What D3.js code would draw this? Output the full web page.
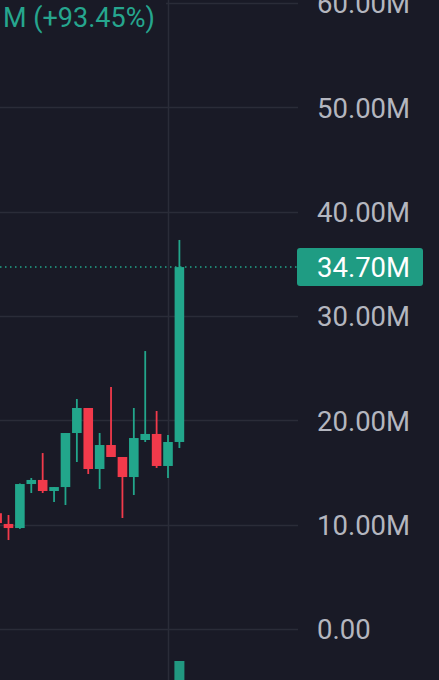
<!DOCTYPE html>
<html><head><meta charset="utf-8">
<script src="https://cdn.jsdelivr.net/npm/d3@7"></script>
<style>html,body{margin:0;padding:0;background:#191a26;overflow:hidden}</style>
</head><body>
<svg id="c" width="439" height="680"></svg>
<script>
const opens  = [11.1, 10.07, 9.68, 13.9, 14.29, 13.23, 13.61, 18.79, 21.19, 15.34, 17.64, 16.49, 14.57, 18.12, 18.70, 15.63, 17.93];
const highs  = [11.4, 10.93, 13.95, 14.48, 16.87, 13.61, 18.79, 22.05, 21.19, 18.79, 23.2, 16.49, 21.19, 26.65, 20.90, 18.60, 37.30];
const lows   = [9.9, 8.53, 9.6, 13.04, 13.04, 12.18, 11.89, 16.01, 14.86, 13.42, 16.49, 10.64, 12.85, 17.93, 15.44, 14.48, 17.35];
const closes = [10.16, 9.68, 13.9, 14.29, 13.23, 13.61, 18.79, 21.19, 15.34, 17.64, 16.49, 14.57, 18.31, 18.70, 15.63, 17.93, 34.70];
const volumes = [2, 2.5, 3, 1.5, 2, 1.2, 3.5, 3, 3.2, 2.4, 2.8, 2.6, 3, 3.5, 2.2, 2.5, 60];
const yTicks = [0, 10, 20, 30, 40, 50, 60];
const tickLabels = ["0.00", "10.00M", "20.00M", "30.00M", "40.00M", "50.00M", "60.00M"];
const lastPrice = 34.70;
const lastLabel = "34.70M";
const legendText = "M (+93.45%)";

const W = 439, H = 680;
const bg = "#191a26", grid = "#2a2c38", up = "#22a68b", down = "#f23a4b", txt = "#b4b6bf";
const svg = d3.select("#c");
svg.append("rect").attr("width", W).attr("height", H).attr("fill", bg);

const y = d3.scaleLinear().domain([0, 60]).range([629, 3.2]);
const x = d3.scaleLinear().domain([0, opens.length - 1]).range([-2.9, 179.4]);
const vol = d3.scaleLinear().domain([0, d3.max(volumes)]).range([702, 661]);
const plotRight = 298;

// grid
svg.append("g").selectAll("line").data(yTicks).join("line")
  .attr("x1", 0).attr("x2", plotRight)
  .attr("y1", d => Math.round(y(d)) + 0.5).attr("y2", d => Math.round(y(d)) + 0.5)
  .attr("stroke", grid).attr("stroke-width", 1.5);
svg.append("line").attr("x1", x(15) + 0.5).attr("x2", x(15) + 0.5).attr("y1", 0).attr("y2", H)
  .attr("stroke", grid).attr("stroke-width", 1.5);

// axis labels
const axis = d3.axisRight(y).tickValues(yTicks).tickFormat((d, i) => tickLabels[i]).tickSize(0).tickPadding(0);
const ag = svg.append("g").attr("transform", `translate(317,0)`).call(axis);
ag.select(".domain").remove();
ag.selectAll("text").attr("fill", txt).attr("font-family", "Roboto, sans-serif")
  .attr("font-size", 27.5).attr("dy", "0.35em").attr("x", 0);

// volume
const idx = d3.range(opens.length);
svg.append("g").selectAll("rect").data(idx).join("rect")
  .attr("x", i => x(i) - 5).attr("width", 10)
  .attr("y", i => vol(volumes[i])).attr("height", i => vol(0) - vol(volumes[i]))
  .attr("fill", i => closes[i] >= opens[i] ? up : down).attr("opacity", 0.9);

// candles
const cg = svg.append("g").selectAll("g").data(idx).join("g");
cg.append("line")
  .attr("x1", i => x(i)).attr("x2", i => x(i))
  .attr("y1", i => y(highs[i])).attr("y2", i => y(lows[i]))
  .attr("stroke", i => closes[i] >= opens[i] ? up : down).attr("stroke-width", 1.8);
cg.append("rect")
  .attr("x", i => x(i) - 4.8).attr("width", 9.6)
  .attr("y", i => y(Math.max(opens[i], closes[i])))
  .attr("height", i => Math.max(1.5, Math.abs(y(opens[i]) - y(closes[i]))))
  .attr("fill", i => closes[i] >= opens[i] ? up : down);

// price line
svg.append("line").attr("x1", 0).attr("x2", plotRight)
  .attr("y1", y(lastPrice)).attr("y2", y(lastPrice))
  .attr("stroke", up).attr("stroke-width", 1.5).attr("stroke-dasharray", "1.5,3.5");
svg.append("rect").attr("x", 297).attr("y", y(lastPrice) - 19).attr("width", 126).attr("height", 38)
  .attr("rx", 3).attr("fill", "#1f9c83");
svg.append("text").attr("x", 317).attr("y", y(lastPrice)).attr("dy", "0.35em")
  .attr("fill", "#ffffff").attr("font-family", "Roboto, sans-serif").attr("font-size", 27.5).text(lastLabel);

// legend
svg.append("rect").attr("x", 0).attr("y", 0).attr("width", 166).attr("height", 34).attr("fill", bg);
svg.append("text").attr("x", 3).attr("y", 27).attr("fill", "#26a68e")
  .attr("font-family", "Roboto, sans-serif").attr("font-size", 27).text(legendText);
</script>
</body></html>
